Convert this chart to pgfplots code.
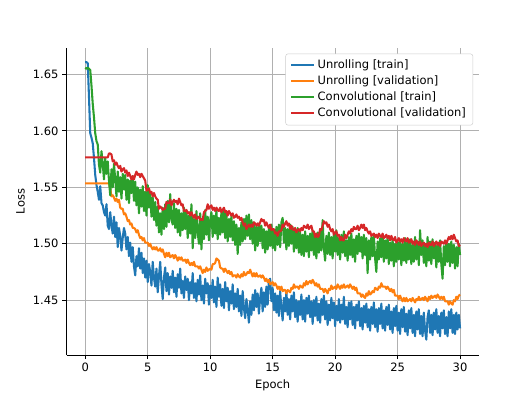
\documentclass[border=0pt]{standalone}
\usepackage{fontspec}
\setmainfont{DejaVu Sans}
\usepackage{pgfplots}
\usepackage{pgfplotstable}
\pgfplotsset{compat=1.18}

\definecolor{tabblue}{HTML}{1F77B4}
\definecolor{taborange}{HTML}{FF7F0E}
\definecolor{tabgreen}{HTML}{2CA02C}
\definecolor{tabred}{HTML}{D62728}
\definecolor{gridgray}{HTML}{B0B0B0}
\definecolor{legendedge}{HTML}{CCCCCC}

% ep = epoch, ut/uv = unrolling train/validation, ct/cv = convolutional train/validation
\pgfplotstableread{
ep ut uv ct cv
0.0 1.661 1.5535 1.656 1.5765
0.1 1.661 1.5535 1.655 1.5765
0.2 1.660 1.5535 1.656 1.5765
0.3 1.630 1.5535 1.655 1.5765
0.4 1.598 1.5535 1.654 1.5765
0.5 1.594 1.5535 1.640 1.5765
0.6 1.589 1.5535 1.624 1.5765
0.7 1.576 1.5535 1.612 1.5765
0.8 1.561 1.5535 1.598 1.5765
0.9 1.552 1.5535 1.591 1.5765
1.0 1.546 1.5535 1.588 1.5765
1.1 1.539 1.5535 1.570 1.5765
1.2 1.551 1.5535 1.563 1.5765
1.3 1.536 1.5535 1.582 1.5765
1.4 1.534 1.5535 1.571 1.5765
1.5 1.528 1.5535 1.557 1.5765
1.6 1.525 1.5535 1.576 1.5765
1.7 1.535 1.5535 1.562 1.5765
1.8 1.516 1.5535 1.573 1.5765
1.9 1.513 1.5535 1.556 1.580
2.0 1.528 1.549 1.543 1.580
2.1 1.516 1.542 1.566 1.579
2.2 1.509 1.543 1.550 1.573
2.3 1.524 1.541 1.571 1.574
2.4 1.506 1.538 1.557 1.570
2.5 1.519 1.540 1.542 1.572
2.6 1.497 1.537 1.564 1.569
2.7 1.514 1.539 1.546 1.567
2.8 1.507 1.532 1.559 1.569
2.9 1.494 1.531 1.540 1.564
3.0 1.505 1.531 1.562 1.566
3.1 1.514 1.526 1.548 1.567
3.2 1.509 1.527 1.561 1.563
3.3 1.495 1.524 1.539 1.565
3.4 1.506 1.520 1.557 1.560
3.5 1.489 1.521 1.536 1.563
3.6 1.501 1.517 1.556 1.560
3.7 1.484 1.518 1.545 1.557
3.8 1.497 1.514 1.560 1.560
3.9 1.480 1.514 1.538 1.557
4.0 1.472 1.513 1.555 1.561
4.1 1.489 1.510 1.534 1.564
4.2 1.480 1.512 1.550 1.561
4.3 1.496 1.508 1.527 1.562
4.4 1.478 1.505 1.548 1.559
4.5 1.492 1.506 1.533 1.562
4.6 1.474 1.503 1.551 1.560
4.7 1.487 1.505 1.529 1.558
4.8 1.470 1.501 1.546 1.556
4.9 1.485 1.501 1.525 1.547
5.0 1.466 1.501 1.552 1.548
5.1 1.482 1.498 1.532 1.549
5.2 1.475 1.500 1.546 1.545
5.3 1.463 1.497 1.524 1.546
5.4 1.484 1.495 1.541 1.542
5.5 1.470 1.497 1.521 1.545
5.6 1.462 1.495 1.537 1.542
5.7 1.478 1.497 1.516 1.540
5.8 1.457 1.494 1.533 1.539
5.9 1.471 1.494 1.510 1.531
6.0 1.484 1.496 1.527 1.533
6.1 1.464 1.493 1.508 1.532
6.2 1.451 1.495 1.532 1.530
6.3 1.470 1.491 1.513 1.531
6.4 1.479 1.488 1.535 1.531
6.5 1.458 1.492 1.515 1.537
6.6 1.474 1.489 1.538 1.536
6.7 1.455 1.492 1.519 1.536
6.8 1.471 1.488 1.544 1.539
6.9 1.461 1.489 1.522 1.534
7.0 1.476 1.490 1.517 1.537
7.1 1.457 1.487 1.536 1.539
7.2 1.470 1.490 1.514 1.537
7.3 1.453 1.488 1.531 1.538
7.4 1.473 1.485 1.510 1.535
7.5 1.461 1.488 1.530 1.540
7.6 1.478 1.486 1.507 1.537
7.7 1.456 1.488 1.527 1.534
7.8 1.467 1.485 1.512 1.535
7.9 1.452 1.485 1.532 1.529
8.0 1.471 1.486 1.513 1.529
8.1 1.459 1.483 1.529 1.530
8.2 1.469 1.486 1.505 1.527
8.3 1.450 1.483 1.525 1.528
8.4 1.466 1.481 1.509 1.525
8.5 1.456 1.483 1.535 1.528
8.6 1.474 1.481 1.496 1.525
8.7 1.452 1.484 1.522 1.523
8.8 1.465 1.480 1.505 1.526
8.9 1.449 1.480 1.529 1.522
9.0 1.468 1.480 1.510 1.523
9.1 1.455 1.478 1.500 1.524
9.2 1.472 1.480 1.527 1.521
9.3 1.450 1.477 1.495 1.522
9.4 1.463 1.474 1.521 1.521
9.5 1.447 1.477 1.504 1.528
9.6 1.469 1.475 1.530 1.529
9.7 1.456 1.479 1.508 1.530
9.8 1.465 1.476 1.524 1.535
9.9 1.446 1.477 1.503 1.531
10.0 1.463 1.478 1.521 1.533
10.1 1.452 1.477 1.528 1.534
10.2 1.468 1.482 1.506 1.530
10.3 1.448 1.482 1.525 1.532
10.4 1.462 1.483 1.509 1.529
10.5 1.444 1.487 1.530 1.532
10.6 1.470 1.486 1.504 1.530
10.7 1.453 1.485 1.523 1.529
10.8 1.464 1.479 1.508 1.532
10.9 1.445 1.478 1.528 1.528
11.0 1.460 1.478 1.510 1.530
11.1 1.443 1.475 1.531 1.532
11.2 1.466 1.478 1.505 1.528
11.3 1.449 1.476 1.527 1.529
11.4 1.461 1.474 1.502 1.525
11.5 1.441 1.476 1.522 1.529
11.6 1.458 1.473 1.506 1.527
11.7 1.447 1.475 1.525 1.525
11.8 1.464 1.471 1.503 1.527
11.9 1.442 1.472 1.520 1.523
12.0 1.456 1.472 1.499 1.524
12.1 1.444 1.470 1.517 1.526
12.2 1.460 1.473 1.491 1.523
12.3 1.440 1.471 1.514 1.524
12.4 1.454 1.470 1.499 1.521
12.5 1.436 1.473 1.519 1.523
12.6 1.458 1.471 1.502 1.519
12.7 1.443 1.475 1.522 1.516
12.8 1.434 1.472 1.504 1.518
12.9 1.451 1.473 1.525 1.513
13.0 1.442 1.475 1.507 1.515
13.1 1.430 1.474 1.526 1.517
13.2 1.449 1.477 1.504 1.515
13.3 1.437 1.474 1.521 1.517
13.4 1.455 1.471 1.500 1.515
13.5 1.441 1.474 1.519 1.519
13.6 1.459 1.471 1.494 1.518
13.7 1.444 1.474 1.515 1.516
13.8 1.456 1.471 1.498 1.518
13.9 1.438 1.471 1.518 1.516
14.0 1.452 1.472 1.502 1.519
14.1 1.461 1.470 1.516 1.522
14.2 1.440 1.472 1.496 1.520
14.3 1.457 1.470 1.513 1.521
14.4 1.444 1.467 1.492 1.516
14.5 1.462 1.469 1.511 1.519
14.6 1.446 1.466 1.495 1.516
14.7 1.467 1.468 1.514 1.514
14.8 1.469 1.464 1.498 1.517
14.9 1.449 1.465 1.517 1.512
15.0 1.461 1.466 1.496 1.513
15.1 1.441 1.463 1.512 1.513
15.2 1.456 1.465 1.494 1.509
15.3 1.439 1.463 1.515 1.510
15.4 1.454 1.460 1.499 1.507
15.5 1.436 1.462 1.517 1.511
15.6 1.458 1.459 1.497 1.511
15.7 1.443 1.462 1.519 1.512
15.8 1.432 1.458 1.523 1.517
15.9 1.452 1.459 1.501 1.515
16.0 1.440 1.459 1.514 1.518
16.1 1.458 1.456 1.495 1.520
16.2 1.437 1.459 1.513 1.516
16.3 1.451 1.458 1.498 1.518
16.4 1.433 1.457 1.517 1.513
16.5 1.454 1.461 1.500 1.516
16.6 1.440 1.460 1.515 1.513
16.7 1.457 1.464 1.493 1.512
16.8 1.435 1.461 1.512 1.514
16.9 1.450 1.462 1.496 1.510
17.0 1.431 1.462 1.514 1.512
17.1 1.449 1.460 1.492 1.513
17.2 1.437 1.463 1.510 1.511
17.3 1.455 1.462 1.490 1.514
17.4 1.433 1.461 1.508 1.512
17.5 1.450 1.465 1.489 1.516
17.6 1.431 1.463 1.511 1.515
17.7 1.452 1.467 1.493 1.514
17.8 1.438 1.464 1.507 1.517
17.9 1.454 1.466 1.488 1.513
18.0 1.435 1.467 1.509 1.515
18.1 1.449 1.465 1.494 1.516
18.2 1.429 1.468 1.512 1.511
18.3 1.450 1.466 1.490 1.511
18.4 1.436 1.463 1.506 1.506
18.5 1.453 1.465 1.487 1.509
18.6 1.432 1.462 1.510 1.506
18.7 1.447 1.464 1.492 1.507
18.8 1.430 1.460 1.513 1.513
18.9 1.451 1.460 1.494 1.512
19.0 1.437 1.460 1.521 1.516
19.1 1.454 1.457 1.496 1.520
19.2 1.433 1.460 1.485 1.518
19.3 1.449 1.458 1.507 1.519
19.4 1.428 1.456 1.491 1.515
19.5 1.446 1.460 1.510 1.517
19.6 1.432 1.459 1.490 1.513
19.7 1.452 1.463 1.506 1.511
19.8 1.434 1.460 1.487 1.513
19.9 1.448 1.461 1.509 1.508
20.0 1.427 1.462 1.493 1.510
20.1 1.445 1.460 1.512 1.511
20.2 1.432 1.464 1.490 1.507
20.3 1.451 1.462 1.505 1.508
20.4 1.430 1.460 1.486 1.503
20.5 1.446 1.463 1.508 1.506
20.6 1.433 1.461 1.492 1.503
20.7 1.453 1.464 1.511 1.503
20.8 1.429 1.461 1.489 1.508
20.9 1.444 1.462 1.503 1.505
21.0 1.426 1.463 1.485 1.508
21.1 1.448 1.461 1.506 1.511
21.2 1.433 1.464 1.490 1.509
21.3 1.449 1.462 1.509 1.513
21.4 1.428 1.460 1.488 1.511
21.5 1.444 1.462 1.504 1.515
21.6 1.425 1.459 1.484 1.513
21.7 1.446 1.461 1.507 1.513
21.8 1.432 1.456 1.491 1.516
21.9 1.449 1.456 1.509 1.512
22.0 1.427 1.456 1.493 1.514
22.1 1.443 1.453 1.506 1.517
22.2 1.424 1.455 1.487 1.514
22.3 1.445 1.453 1.508 1.517
22.4 1.430 1.452 1.490 1.512
22.5 1.447 1.456 1.505 1.514
22.6 1.426 1.454 1.474 1.511
22.7 1.442 1.458 1.503 1.509
22.8 1.423 1.455 1.486 1.511
22.9 1.444 1.456 1.506 1.507
23.0 1.429 1.458 1.489 1.508
23.1 1.448 1.457 1.508 1.509
23.2 1.426 1.461 1.487 1.506
23.3 1.442 1.460 1.475 1.508
23.4 1.422 1.459 1.502 1.505
23.5 1.443 1.462 1.486 1.509
23.6 1.429 1.461 1.505 1.507
23.7 1.447 1.465 1.488 1.506
23.8 1.425 1.462 1.507 1.509
23.9 1.441 1.462 1.484 1.505
24.0 1.423 1.462 1.503 1.506
24.1 1.444 1.460 1.487 1.508
24.2 1.428 1.462 1.506 1.505
24.3 1.446 1.460 1.482 1.507
24.4 1.424 1.458 1.501 1.503
24.5 1.440 1.460 1.485 1.507
24.6 1.421 1.457 1.504 1.504
24.7 1.443 1.459 1.480 1.503
24.8 1.427 1.454 1.500 1.506
24.9 1.445 1.454 1.484 1.501
25.0 1.423 1.454 1.503 1.503
25.1 1.439 1.451 1.486 1.505
25.2 1.420 1.454 1.502 1.502
25.3 1.442 1.451 1.481 1.504
25.4 1.426 1.449 1.500 1.501
25.5 1.444 1.452 1.485 1.505
25.6 1.422 1.449 1.505 1.503
25.7 1.438 1.452 1.483 1.502
25.8 1.419 1.449 1.501 1.505
25.9 1.441 1.450 1.486 1.501
26.0 1.425 1.451 1.504 1.502
26.1 1.443 1.449 1.482 1.504
26.2 1.421 1.452 1.499 1.500
26.3 1.437 1.450 1.484 1.502
26.4 1.418 1.448 1.506 1.499
26.5 1.440 1.451 1.486 1.503
26.6 1.424 1.450 1.502 1.501
26.7 1.442 1.453 1.481 1.499
26.8 1.420 1.450 1.512 1.502
26.9 1.436 1.451 1.490 1.498
27.0 1.418 1.452 1.503 1.500
27.1 1.439 1.450 1.483 1.501
27.2 1.423 1.453 1.500 1.498
27.3 1.415 1.451 1.480 1.500
27.4 1.435 1.449 1.506 1.497
27.5 1.441 1.453 1.485 1.501
27.6 1.421 1.451 1.502 1.499
27.7 1.437 1.454 1.482 1.499
27.8 1.419 1.452 1.504 1.502
27.9 1.439 1.453 1.487 1.498
28.0 1.424 1.454 1.501 1.500
28.1 1.442 1.452 1.479 1.502
28.2 1.421 1.455 1.499 1.499
28.3 1.436 1.453 1.484 1.501
28.4 1.418 1.451 1.503 1.498
28.5 1.439 1.453 1.482 1.502
28.6 1.425 1.451 1.469 1.501
28.7 1.441 1.453 1.498 1.500
28.8 1.420 1.449 1.481 1.503
28.9 1.435 1.449 1.502 1.500
29.0 1.418 1.449 1.484 1.503
29.1 1.440 1.446 1.500 1.506
29.2 1.425 1.449 1.480 1.504
29.3 1.442 1.447 1.502 1.507
29.4 1.421 1.446 1.483 1.504
29.5 1.437 1.450 1.499 1.508
29.6 1.420 1.449 1.478 1.505
29.7 1.439 1.453 1.497 1.502
29.8 1.424 1.451 1.480 1.503
29.9 1.437 1.454 1.500 1.498
30.0 1.425 1.455 1.490 1.499
}\losstable

\begin{document}
\begin{tikzpicture}
\path[use as bounding box] (0,0) rectangle (6.4in,4.8in);
\begin{axis}[
  at={(0.8in,0.528in)}, anchor=south west,
  scale only axis, width=4.96in, height=3.696in,
  xmin=-1.5, xmax=31.5, ymin=1.4013, ymax=1.6736,
  axis x line*=bottom, axis y line*=left,
  axis line style={-, line width=0.8pt},
  xtick={0,5,10,15,20,25,30},
  ytick={1.45,1.50,1.55,1.60,1.65},
  yticklabel style={/pgf/number format/.cd, fixed, fixed zerofill, precision=2},
  /pgf/number format/assume math mode=true,
  tick align=outside, major tick length=3.5pt,
  tick style={black, line width=0.8pt},
  grid=major, grid style={gridgray, line width=0.8pt},
  xlabel={Epoch}, ylabel={Loss},
  legend style={at={(1,1)}, anchor=north east, xshift=-5pt, yshift=-5pt,
    draw=legendedge, rounded corners=2pt, fill=white,
    inner xsep=4pt, inner ysep=3pt, row sep=0pt,
    nodes={inner sep=2pt, text height=7.5pt, text depth=2.5pt}},
  legend cell align=left,
  legend image code/.code={\draw[#1, line width=1.8pt] (0pt,0.3pt) -- (20pt,0.3pt);},
]
\addplot[tabblue, line width=1.8pt, line join=round] table[x=ep, y=ut]{\losstable};
\addplot[taborange, line width=1.8pt, line join=round] table[x=ep, y=uv]{\losstable};
\addplot[tabgreen, line width=1.8pt, line join=round] table[x=ep, y=ct]{\losstable};
\addplot[tabred, line width=1.8pt, line join=round] table[x=ep, y=cv]{\losstable};
\legend{{Unrolling [train]}, {Unrolling [validation]}, {Convolutional [train]}, {Convolutional [validation]}}
\end{axis}
\end{tikzpicture}
\end{document}
